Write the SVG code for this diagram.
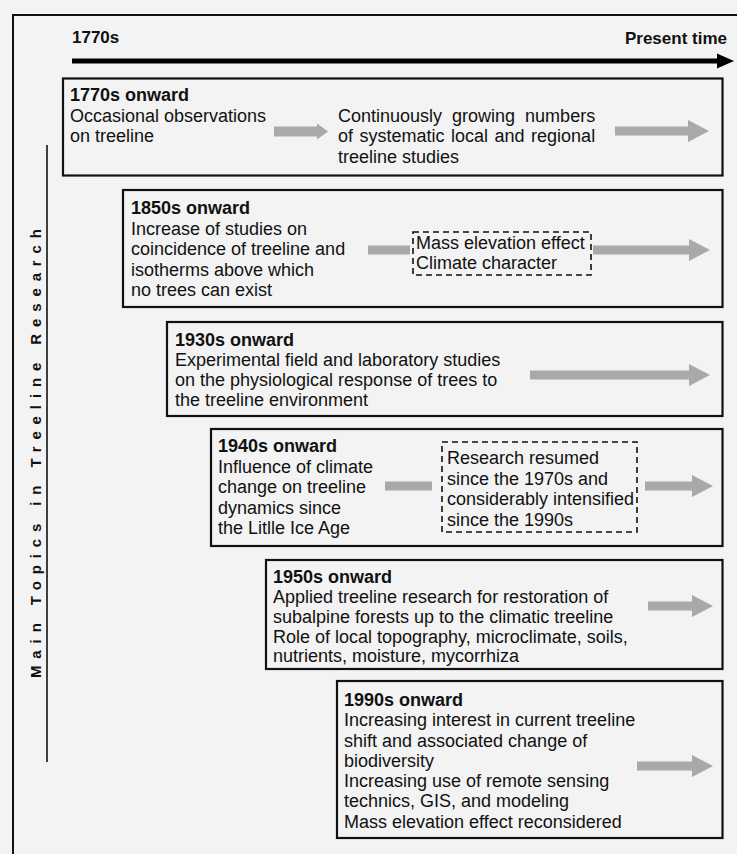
<svg xmlns="http://www.w3.org/2000/svg" width="737" height="854" viewBox="0 0 737 854">
<defs>
<style>
.bg{fill:#f3f3f3}
.box{fill:#f3f3f3;stroke:#111;stroke-width:2.2}
.dash{fill:none;stroke:#111;stroke-width:1.6;stroke-dasharray:6,4}
.t{font-family:"Liberation Sans",Arial,sans-serif;font-size:18px;fill:#111}
.h{font-family:"Liberation Sans",Arial,sans-serif;font-size:18px;font-weight:bold;fill:#111}
.tl{font-family:"Liberation Sans",Arial,sans-serif;font-size:17px;font-weight:bold;fill:#111}
.side{font-family:"Liberation Sans",Arial,sans-serif;font-size:15px;font-weight:bold;fill:#111}
.ga{fill:#a9a9a9}
</style>
</defs>
<rect class="bg" x="0" y="0" width="737" height="854"/>
<g id="frame">
<path d="M13 854 V15 H737" fill="none" stroke="#111" stroke-width="2"/>
<line x1="47" y1="145" x2="47" y2="762" stroke="#111" stroke-width="1.6"/>
<text class="side" transform="translate(41 678) rotate(-90)" textLength="449" lengthAdjust="spacing">Main Topics in Treeline Research</text>
</g>
<g id="timeline">
<text class="tl" x="72" y="43">1770s</text>
<text class="tl" x="727" y="44" text-anchor="end">Present time</text>
<line x1="72" y1="61" x2="720" y2="61" stroke="#000" stroke-width="5"/>
<path d="M717 53.5 L734 61 L717 68.5 Z" fill="#000"/>
</g>
<g id="box1">
<rect class="box" x="63" y="78.5" width="659.5" height="97"/>
<text class="h" x="70" y="101">1770s onward</text>
<text class="t" x="70" y="121.5">Occasional observations</text>
<text class="t" x="70" y="142">on treeline</text>
<text class="t" x="338" y="121.5" word-spacing="5">Continuously growing numbers</text>
<text class="t" x="338" y="142" word-spacing="1.5">of systematic local and regional</text>
<text class="t" x="338" y="162.5">treeline studies</text>
</g>
<g id="box2">
<rect class="box" x="123" y="190" width="599.5" height="117"/>
<text class="h" x="131" y="214">1850s onward</text>
<text class="t" x="131" y="234.5">Increase of studies on</text>
<text class="t" x="131" y="255">coincidence of treeline and</text>
<text class="t" x="131" y="275.5">isotherms above which</text>
<text class="t" x="131" y="296">no trees can exist</text>
<rect class="dash" x="413" y="232" width="178" height="43"/>
<text class="t" x="416" y="249">Mass elevation effect</text>
<text class="t" x="416" y="269">Climate character</text>
</g>
<g id="box3">
<rect class="box" x="167" y="322" width="555.5" height="94"/>
<text class="h" x="175" y="345.5">1930s onward</text>
<text class="t" x="175" y="365.5">Experimental field and laboratory studies</text>
<text class="t" x="175" y="386">on the physiological response of trees to</text>
<text class="t" x="175" y="406">the treeline environment</text>
</g>
<g id="box4">
<rect class="box" x="211" y="429" width="511.5" height="117"/>
<text class="h" x="218" y="452">1940s onward</text>
<text class="t" x="218" y="472.5">Influence of climate</text>
<text class="t" x="218" y="493">change on treeline</text>
<text class="t" x="218" y="513.5">dynamics since</text>
<text class="t" x="218" y="534">the Litlle Ice Age</text>
<rect class="dash" x="442" y="442" width="195" height="90"/>
<text class="t" x="447" y="464">Research resumed</text>
<text class="t" x="447" y="485">since the 1970s and</text>
<text class="t" x="447" y="505">considerably intensified</text>
<text class="t" x="447" y="526">since the 1990s</text>
</g>
<g id="box5">
<rect class="box" x="266" y="560" width="456.5" height="109"/>
<text class="h" x="273" y="583">1950s onward</text>
<text class="t" x="273" y="603">Applied treeline research for restoration of</text>
<text class="t" x="273" y="623">subalpine forests up to the climatic treeline</text>
<text class="t" x="273" y="643">Role of local topography, microclimate, soils,</text>
<text class="t" x="273" y="662">nutrients, moisture, mycorrhiza</text>
</g>
<g id="box6">
<rect class="box" x="337" y="681" width="385.5" height="157"/>
<text class="h" x="344" y="705.5">1990s onward</text>
<text class="t" x="344" y="726">Increasing interest in current treeline</text>
<text class="t" x="344" y="746.5">shift and associated change of</text>
<text class="t" x="344" y="767">biodiversity</text>
<text class="t" x="344" y="787">Increasing use of remote sensing</text>
<text class="t" x="344" y="807">technics, GIS, and modeling</text>
<text class="t" x="344" y="827.5">Mass elevation effect reconsidered</text>
</g>
<g id="connectors">
<path class="ga" d="M274 126.5 H317 V123.5 L328 131.5 L317 139.5 V136.5 H274 Z"/>
<path class="ga" d="M615 126.5 H688 V120 L709 131 L688 142 V135.5 H615 Z"/>
<rect class="ga" x="368" y="245.5" width="42" height="9"/>
<path class="ga" d="M593 245.5 H689 V239 L710 250 L689 261 V254.5 H593 Z"/>
<path class="ga" d="M530 370.5 H689 V364 L710 375 L689 386 V379.5 H530 Z"/>
<rect class="ga" x="385" y="481.5" width="47" height="9"/>
<path class="ga" d="M645 481.5 H692 V475 L713 486 L692 497 V490.5 H645 Z"/>
<path class="ga" d="M648 601.5 H692 V595 L713 606 L692 617 V610.5 H648 Z"/>
<path class="ga" d="M637 761.5 H692 V755 L713 766 L692 777 V770.5 H637 Z"/>
</g>
</svg>
